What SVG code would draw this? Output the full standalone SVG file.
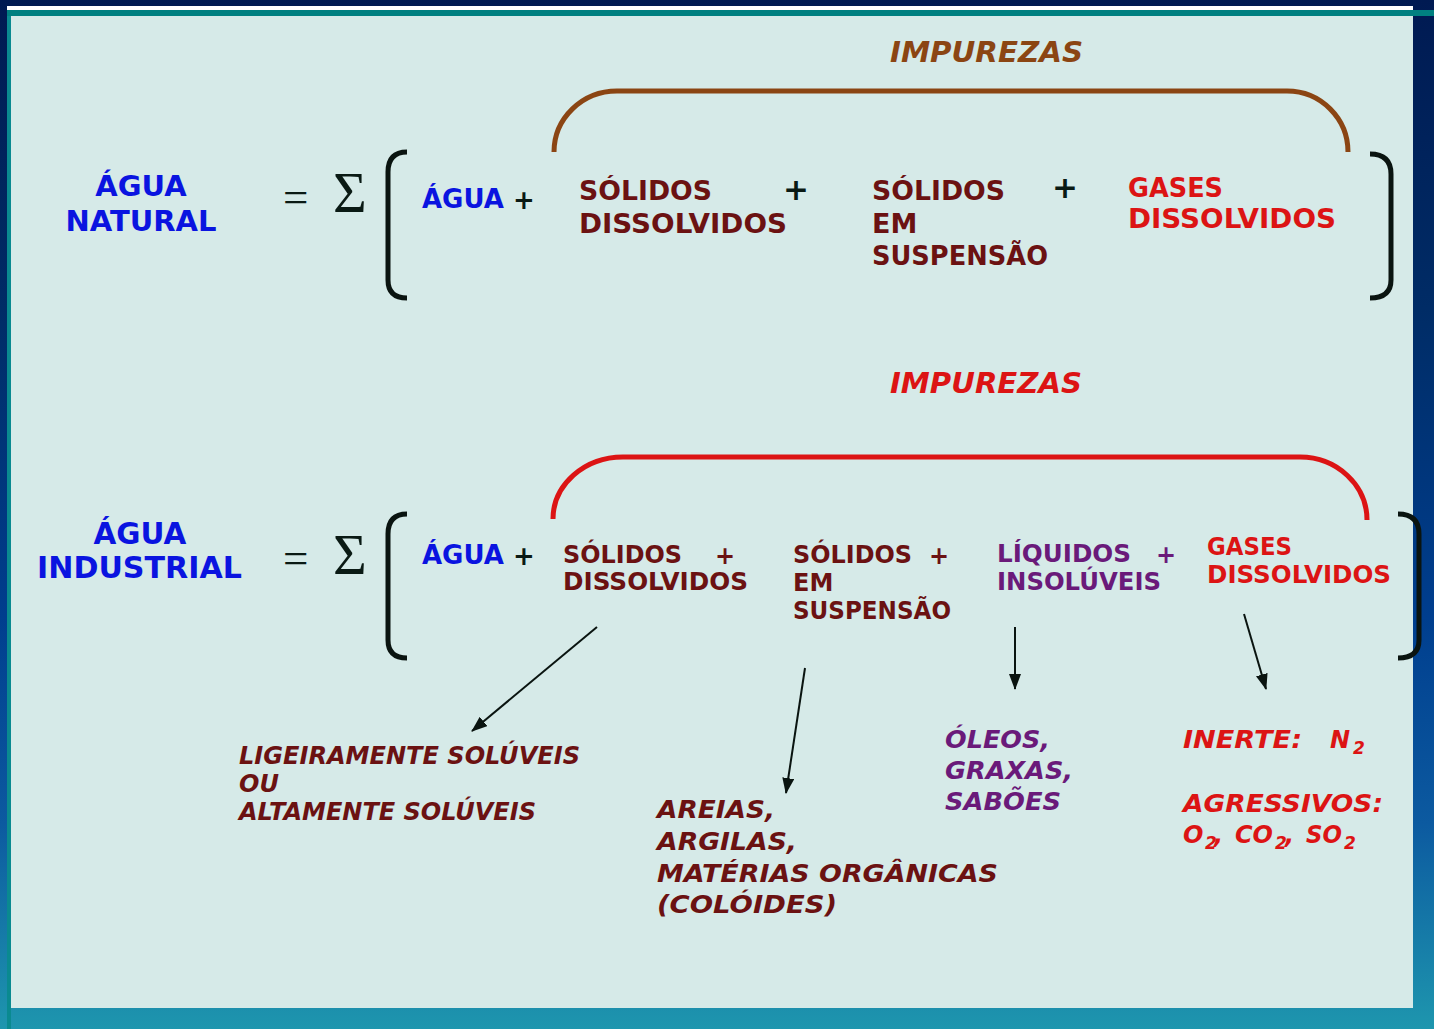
<svg xmlns="http://www.w3.org/2000/svg" width="1434" height="1029" viewBox="0 0 1434 1029">
<defs>
<linearGradient id="bg" x1="0" y1="0" x2="0" y2="1">
<stop offset="0" stop-color="#001a52"/>
<stop offset="0.3" stop-color="#002c66"/>
<stop offset="0.6" stop-color="#003e8e"/>
<stop offset="0.8" stop-color="#0c5aa0"/>
<stop offset="1" stop-color="#1e96ae"/>
</linearGradient>
<marker id="ahb" viewBox="0 0 16 12" refX="15" refY="6" markerWidth="16" markerHeight="12" markerUnits="userSpaceOnUse" orient="auto">
<path d="M0,0 L16,6 L0,12 z" fill="#0a1410"/>
</marker>
</defs>
<style>
text{font-family:"DejaVu Sans",Verdana,sans-serif;font-weight:bold}
.it{font-style:italic}
.blue{fill:#0a14e0}
.dr{fill:#6b1212}
.red{fill:#dc1414}
.pur{fill:#6a1a7a}
.brn{fill:#8b4513}
.blk{fill:#0a1a14}
.ser{font-family:"Liberation Serif","Times New Roman",serif;font-weight:normal;fill:#0a1a14}
.br{fill:none;stroke:#0a1410;stroke-width:5;stroke-linecap:butt}
.arr{fill:none;stroke:#0a1410;stroke-width:2}
.s1{font-size:27px}
.s2{font-size:24px}
.sub{font-size:17px}
</style>
<rect x="0" y="0" width="1434" height="1029" fill="url(#bg)"/>
<rect x="7" y="6" width="1406" height="4" fill="#ffffff"/>
<rect x="7" y="10" width="1427" height="6" fill="#008080"/>
<rect x="7" y="16" width="4" height="1013" fill="#0a8a90"/>
<rect x="11" y="16" width="1402" height="992" fill="#d6eae8"/>

<g id="row1">
<g id="agua-natural">
<text x="141" y="196" text-anchor="middle" class="blue" style="font-size:29px">ÁGUA</text>
<text x="141" y="231" text-anchor="middle" class="blue" style="font-size:29px">NATURAL</text>
</g>
<g id="sum1">
<text x="283" y="212" class="ser" style="font-size:45px">=</text>
<text x="333" y="212" class="ser" style="font-size:58px">Σ</text>
<path class="br" d="M407,152 Q388,152 388,172 L388,280 Q388,298 407,298"/>
<path class="br" d="M1370,154 Q1391,154 1391,174 L1391,280 Q1391,298 1370,298"/>
</g>
<g id="impurezas1">
<text x="890" y="62" class="it brn" style="font-size:28px" textLength="193" lengthAdjust="spacingAndGlyphs">IMPUREZAS</text>
<path d="M554,152 A63,61 0 0 1 617,91 L1287,91 A61,61 0 0 1 1348,152" fill="none" stroke="#8b4513" stroke-width="5"/>
</g>
<g id="agua1"><text x="422" y="208" class="blue" style="font-size:26px">ÁGUA</text><text x="513" y="209" class="blk" style="font-size:26px">+</text></g>
<g id="sd1">
<text x="579" y="200" class="dr s1" textLength="133" lengthAdjust="spacingAndGlyphs">SÓLIDOS</text>
<text x="579" y="233" class="dr s1" textLength="208" lengthAdjust="spacingAndGlyphs">DISSOLVIDOS</text>
<text x="783" y="200" class="blk" style="font-size:31px">+</text>
</g>
<g id="ss1">
<text x="872" y="200" class="dr s1" textLength="133" lengthAdjust="spacingAndGlyphs">SÓLIDOS</text>
<text x="872" y="233" class="dr s1">EM</text>
<text x="872" y="265" class="dr s1" textLength="176" lengthAdjust="spacingAndGlyphs">SUSPENSÃO</text>
<text x="1052" y="198" class="blk" style="font-size:31px">+</text>
</g>
<g id="gd1">
<text x="1128" y="197" class="red s1" textLength="95" lengthAdjust="spacingAndGlyphs">GASES</text>
<text x="1128" y="228" class="red s1" textLength="208" lengthAdjust="spacingAndGlyphs">DISSOLVIDOS</text>
</g>
</g>

<g id="row2">
<g id="agua-industrial">
<text x="140" y="544" text-anchor="middle" class="blue" style="font-size:29.5px">ÁGUA</text>
<text x="37" y="578" class="blue" style="font-size:29.5px" textLength="205" lengthAdjust="spacingAndGlyphs">INDUSTRIAL</text>
</g>
<g id="sum2">
<text x="283" y="573" class="ser" style="font-size:45px">=</text>
<text x="333" y="574" class="ser" style="font-size:58px">Σ</text>
<path class="br" d="M407,514 Q388,514 388,534 L388,640 Q388,658 407,658"/>
<path class="br" d="M1398,514 Q1419,514 1419,534 L1419,640 Q1419,658 1398,658"/>
</g>
<g id="impurezas2">
<text x="890" y="393" class="it red" style="font-size:28px" textLength="192" lengthAdjust="spacingAndGlyphs">IMPUREZAS</text>
<path d="M553,519 A70,62 0 0 1 623,457 L1300,457 A67,63 0 0 1 1367,520" fill="none" stroke="#dc1414" stroke-width="5"/>
</g>
<g id="agua2"><text x="422" y="564" class="blue" style="font-size:26px">ÁGUA</text><text x="513" y="565" class="blk" style="font-size:26px">+</text></g>
<g id="sd2">
<text x="563" y="563" class="dr s2" textLength="119" lengthAdjust="spacingAndGlyphs">SÓLIDOS</text>
<text x="715" y="564" class="dr s2">+</text>
<text x="563" y="590" class="dr s2" textLength="185" lengthAdjust="spacingAndGlyphs">DISSOLVIDOS</text>
</g>
<g id="ss2">
<text x="793" y="563" class="dr s2" textLength="119" lengthAdjust="spacingAndGlyphs">SÓLIDOS</text>
<text x="929" y="564" class="dr s2">+</text>
<text x="793" y="591" class="dr s2">EM</text>
<text x="793" y="619" class="dr s2" textLength="158" lengthAdjust="spacingAndGlyphs">SUSPENSÃO</text>
</g>
<g id="li2">
<text x="997" y="562" class="pur s2" textLength="134" lengthAdjust="spacingAndGlyphs">LÍQUIDOS</text>
<text x="1156" y="563" class="pur s2">+</text>
<text x="997" y="590" class="pur s2" textLength="164" lengthAdjust="spacingAndGlyphs">INSOLÚVEIS</text>
</g>
<g id="gd2">
<text x="1207" y="555" class="red s2" textLength="85" lengthAdjust="spacingAndGlyphs">GASES</text>
<text x="1207" y="583" class="red s2" textLength="184" lengthAdjust="spacingAndGlyphs">DISSOLVIDOS</text>
</g>
<g id="sol">
<text x="239" y="764" class="it dr s2" textLength="341" lengthAdjust="spacingAndGlyphs">LIGEIRAMENTE SOLÚVEIS</text>
<text x="239" y="792" class="it dr s2">OU</text>
<text x="239" y="820" class="it dr s2" textLength="297" lengthAdjust="spacingAndGlyphs">ALTAMENTE SOLÚVEIS</text>
</g>
<g id="areias">
<text x="657" y="818" class="it dr s2" textLength="118" lengthAdjust="spacingAndGlyphs">AREIAS,</text>
<text x="657" y="850" class="it dr s2" textLength="140" lengthAdjust="spacingAndGlyphs">ARGILAS,</text>
<text x="657" y="882" class="it dr s2" textLength="341" lengthAdjust="spacingAndGlyphs">MATÉRIAS ORGÂNICAS</text>
<text x="657" y="913" class="it dr s2" textLength="180" lengthAdjust="spacingAndGlyphs">(COLÓIDES)</text>
</g>
<g id="oleos">
<text x="945" y="748" class="it pur s2" textLength="105" lengthAdjust="spacingAndGlyphs">ÓLEOS,</text>
<text x="945" y="779" class="it pur s2" textLength="128" lengthAdjust="spacingAndGlyphs">GRAXAS,</text>
<text x="945" y="810" class="it pur s2" textLength="116" lengthAdjust="spacingAndGlyphs">SABÕES</text>
</g>
<g id="gases">
<text x="1183" y="748" class="it red s2" textLength="119" lengthAdjust="spacingAndGlyphs">INERTE:</text>
<text x="1330" y="748" class="it red s2">N</text>
<text x="1353" y="754" class="it red sub">2</text>
<text x="1183" y="812" class="it red s2" textLength="200" lengthAdjust="spacingAndGlyphs">AGRESSIVOS:</text>
<text x="1183" y="843" class="it red s2">O</text>
<text x="1205" y="849" class="it red sub">2</text>
<text x="1214" y="843" class="it red s2">,</text>
<text x="1235" y="843" class="it red s2" textLength="38" lengthAdjust="spacingAndGlyphs">CO</text>
<text x="1275" y="849" class="it red sub">2</text>
<text x="1285" y="843" class="it red s2">,</text>
<text x="1306" y="843" class="it red s2" textLength="36" lengthAdjust="spacingAndGlyphs">SO</text>
<text x="1344" y="849" class="it red sub">2</text>
</g>
</g>

<g id="connectors">
<line class="arr" x1="597" y1="627" x2="472" y2="731" marker-end="url(#ahb)"/>
<line class="arr" x1="805" y1="668" x2="786" y2="793" marker-end="url(#ahb)"/>
<line class="arr" x1="1015" y1="627" x2="1015" y2="689" marker-end="url(#ahb)"/>
<line class="arr" x1="1244" y1="614" x2="1266" y2="689" marker-end="url(#ahb)"/>
</g>
</svg>
